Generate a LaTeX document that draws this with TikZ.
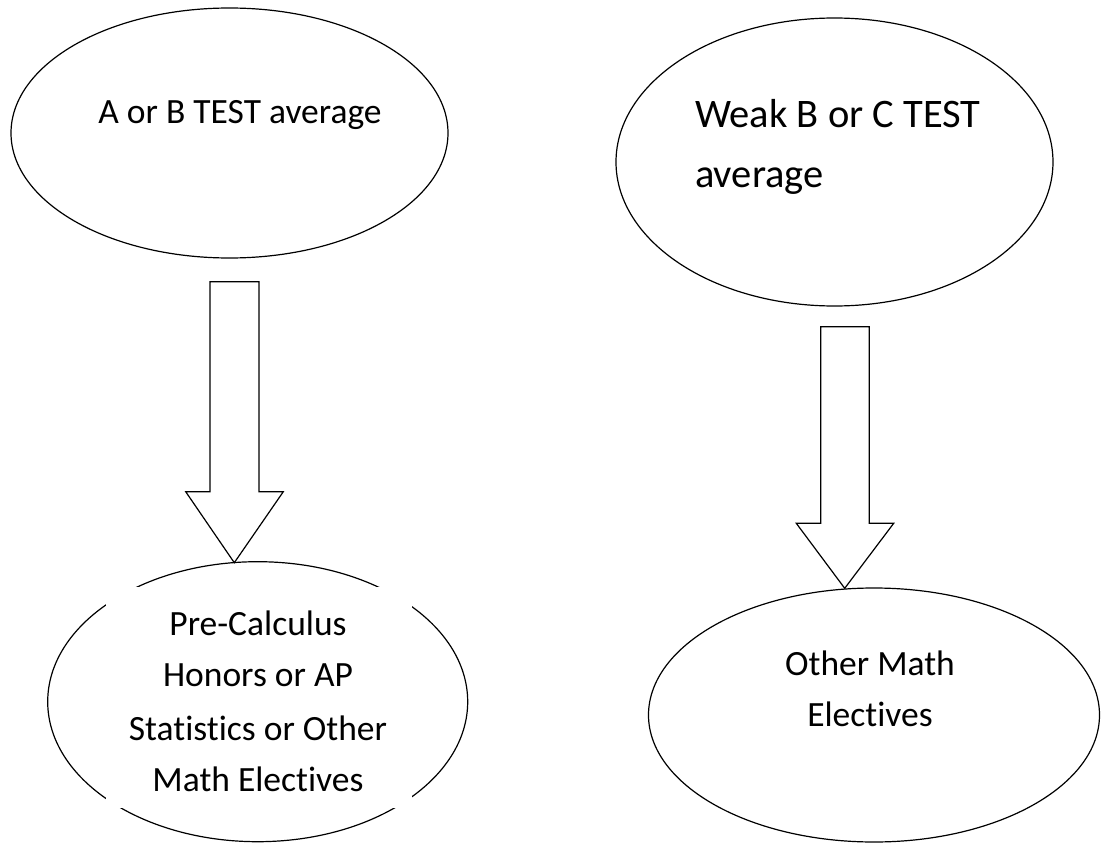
\documentclass[tikz,border=0pt]{standalone}
\usepackage{fontspec}
\setmainfont{Carlito}[Ligatures=NoCommon]
\usetikzlibrary{shapes.geometric,calc}
\begin{document}
\begin{tikzpicture}[x=1pt,y=-1pt,
  oval/.style={ellipse,draw=black,line width=1.2pt,inner sep=0pt},
  blockarrow/.style={draw=black,line width=1.2pt,fill=white,line join=miter},
  lbl/.style={anchor=base,inner sep=0pt,font=\fontsize{35.5}{42}\selectfont},
  biglbl/.style={anchor=base west,inner sep=0pt,font=\fontsize{40.5}{48}\selectfont},
  mask/.style={fill=white,draw=none}]
\useasboundingbox (0,0) rectangle (1101,843);
% ellipses
\node[oval,minimum width=437pt,minimum height=250pt] (e1) at (229.5,133) {};
\node[oval,minimum width=437pt,minimum height=288pt] (e2) at (834.5,162) {};
\node[oval,minimum width=420pt,minimum height=280pt] (e3) at (257.7,701.7) {};
\node[oval,minimum width=451pt,minimum height=254pt] (e4) at (874,715) {};
% white text boxes covering outlines
\fill[mask] (106,587) rectangle (412,808);
\fill[mask] (1020.5,255.5) rectangle (1023,259);
\fill[mask] (1045.5,803.5) rectangle (1048,807);
% texts
\node[lbl] (t1) at (240,124) {A or B TEST average};
\node[biglbl] (t2a) at (695,128) {Weak B or C TEST};
\node[biglbl] (t2b) at (695,187) {average};
\node[lbl] (t3a) at (258,635) {Pre-Calculus};
\node[lbl] (t3b) at (258,686.7) {Honors or AP};
\node[lbl] (t3c) at (258,740) {Statistics or Other};
\node[lbl] (t3d) at (258,791.7) {Math Electives};
\node[lbl] (t4a) at (870,675) {Other Math};
\node[lbl] (t4b) at (870,726.7) {Electives};
% arrow 1
\coordinate (a1t) at (234.5,281.7);
\coordinate (a1h) at (234.5,491.7);
\coordinate (a1p) at (234.3,562.7);
\draw[blockarrow] ($(a1t)+(-24.5,0)$) -- ($(a1t)+(24.5,0)$) -- ($(a1h)+(24.5,0)$)
  -- ($(a1h)+(48.8,0)$) -- (a1p) -- ($(a1h)+(-48.8,0)$) -- ($(a1h)+(-24.5,0)$) -- cycle;
% arrow 2
\coordinate (a2t) at (845,326.7);
\coordinate (a2h) at (845,523.3);
\coordinate (a2p) at (844.7,588.3);
\draw[blockarrow] ($(a2t)+(-24.3,0)$) -- ($(a2t)+(24.3,0)$) -- ($(a2h)+(24.3,0)$)
  -- ($(a2h)+(48.7,0)$) -- (a2p) -- ($(a2h)+(-48.7,0)$) -- ($(a2h)+(-24.3,0)$) -- cycle;
\end{tikzpicture}
\end{document}
